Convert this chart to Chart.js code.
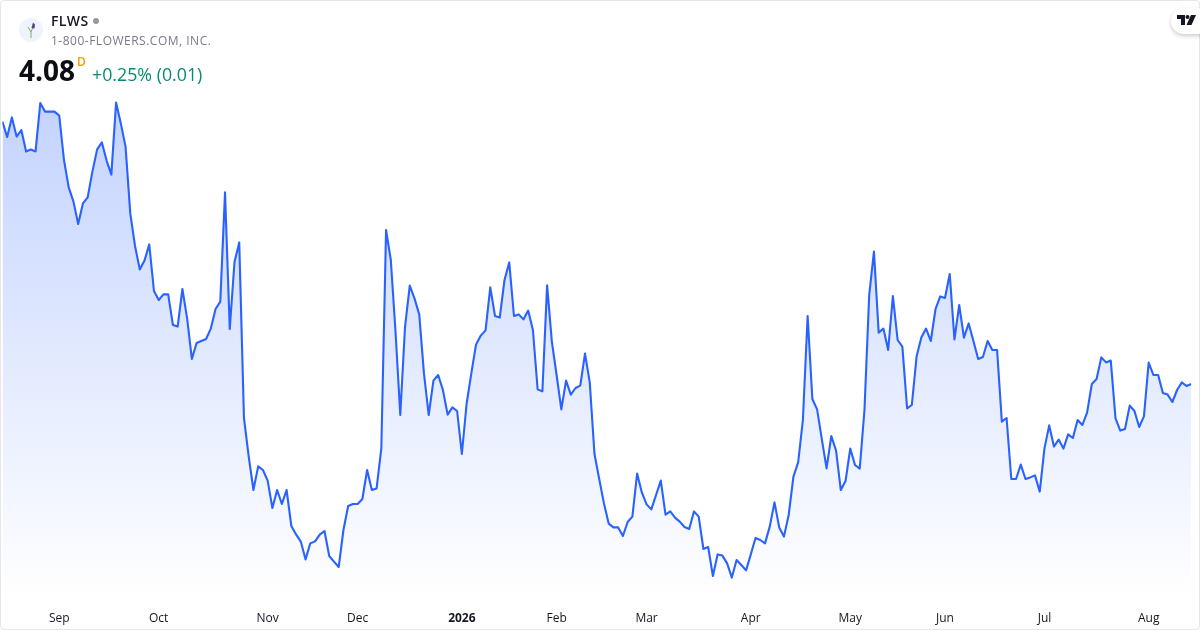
<!DOCTYPE html>
<html>
<head>
<meta charset="utf-8">
<title>FLWS</title>
<script src="https://cdn.jsdelivr.net/npm/chart.js@4"></script>
<style>
  html, body { margin: 0; padding: 0; background: #fff; }
  body { width: 1200px; height: 630px; overflow: hidden; position: relative; font-family: "Open Sans", sans-serif; }
  #chart { position: absolute; left: 0; top: 0; }
  .frame { position: absolute; left: 0; top: 0; width: 1198px; height: 628px; border: 1px solid #e6e6e6; border-radius: 4px; pointer-events: none; }
  .logo { position: absolute; left: 19px; top: 18px; width: 24px; height: 24px; border-radius: 50%; background: #f0f3fa; }
  .ticker { position: absolute; left: 51px; top: 12px; font-size: 14px; font-weight: 600; line-height: 18px; color: #131722; letter-spacing: .4px; }
  .dot { position: absolute; left: 93px; top: 18px; width: 6px; height: 6px; border-radius: 50%; background: #9598a1; }
  .name { position: absolute; left: 51px; top: 32px; font-size: 12px; line-height: 17px; color: #787b86; letter-spacing: .5px; }
  .price { position: absolute; left: 19px; top: 51px; font-size: 28px; font-weight: 700; line-height: 38px; color: #0c0e14; }
  .flag { position: absolute; left: 77px; top: 54px; font-size: 12px; font-weight: 600; line-height: 16px; color: #ff9800; }
  .change { position: absolute; left: 92px; top: 62px; font-size: 17.8px; line-height: 24px; color: #0b8a73; }
  .tv { position: absolute; left: 1171px; top: 8px; width: 40px; height: 26px; border-radius: 13px; background: #fff; box-shadow: 0 2px 4px rgba(0,0,0,.2); }
  .tv svg { position: absolute; left: 6px; top: 7px; }
</style>
</head>
<body>
<canvas id="chart" width="1200" height="630"></canvas>
<div class="frame"></div>

<div class="logo">
  <svg width="24" height="24" viewBox="0 0 24 24">
    <path d="M12 20 L12 14 L9 9 M12 14 L14 9" fill="none" stroke="#6fb36f" stroke-width="1"/>
    <path d="M12.5 10 L14 4.5 L16 6.5 L15.5 10.5 Z" fill="#5b3f8c"/>
  </svg>
</div>
<div class="ticker">FLWS</div>
<div class="dot"></div>
<div class="name">1-800-FLOWERS.COM, INC.</div>
<div class="price">4.08</div>
<div class="flag">D</div>
<div class="change">+0.25% (0.01)</div>
<div class="tv">
  <svg width="20" height="12" viewBox="0 0 20 12">
    <path d="M0 0 H8 V10 H4 V4 H0 Z" fill="#131722"/>
    <circle cx="10.5" cy="2" r="2" fill="#131722"/>
    <path d="M14 0 H19 L14.5 10 H9.5 Z" fill="#131722"/>
  </svg>
</div>

<script>
// daily closes
const closes = [
  5.392, 5.315, 5.413, 5.317, 5.35, 5.243, 5.252, 5.243, 5.485, 5.442,
  5.442, 5.442, 5.422, 5.2, 5.063, 4.992, 4.88, 4.983, 5.013, 5.142,
  5.253, 5.288, 5.197, 5.127, 5.487, 5.383, 5.267, 4.933, 4.77, 4.653,
  4.697, 4.778, 4.545, 4.5, 4.528, 4.528, 4.375, 4.367, 4.555, 4.408,
  4.205, 4.285, 4.295, 4.305, 4.357, 4.455, 4.492, 5.038, 4.355, 4.69,
  4.788, 3.91, 3.717, 3.55, 3.668, 3.65, 3.597, 3.46, 3.55, 3.48,
  3.55, 3.37, 3.328, 3.292, 3.203, 3.283, 3.293, 3.327, 3.345, 3.22,
  3.192, 3.165, 3.35, 3.47, 3.48, 3.48, 3.505, 3.65, 3.55, 3.558,
  3.758, 4.85, 4.7, 4.34, 3.925, 4.365, 4.572, 4.508, 4.428, 4.133,
  3.925, 4.097, 4.125, 4.05, 3.927, 3.963, 3.945, 3.73, 3.98, 4.133,
  4.278, 4.322, 4.348, 4.563, 4.42, 4.412, 4.6, 4.688, 4.42, 4.428,
  4.403, 4.447, 4.35, 4.053, 4.043, 4.573, 4.292, 4.125, 3.953, 4.097,
  4.027, 4.06, 4.072, 4.232, 4.088, 3.73, 3.605, 3.483, 3.382, 3.363,
  3.363, 3.32, 3.39, 3.417, 3.632, 3.538, 3.478, 3.453, 3.525, 3.597,
  3.427, 3.443, 3.412, 3.392, 3.365, 3.355, 3.443, 3.417, 3.255, 3.265,
  3.12, 3.228, 3.222, 3.183, 3.112, 3.2, 3.175, 3.148, 3.228, 3.31,
  3.3, 3.283, 3.367, 3.488, 3.363, 3.317, 3.425, 3.617, 3.688, 3.9,
  4.42, 4.005, 3.953, 3.803, 3.658, 3.82, 3.747, 3.55, 3.595, 3.757,
  3.675, 3.657, 3.95, 4.525, 4.742, 4.337, 4.357, 4.25, 4.52, 4.3,
  4.267, 3.958, 3.975, 4.217, 4.313, 4.357, 4.295, 4.455, 4.518, 4.51,
  4.63, 4.303, 4.475, 4.312, 4.383, 4.295, 4.205, 4.215, 4.295, 4.25,
  4.25, 3.892, 3.91, 3.605, 3.605, 3.677, 3.605, 3.613, 3.623, 3.542,
  3.758, 3.873, 3.767, 3.802, 3.757, 3.828, 3.81, 3.9, 3.875, 3.937,
  4.08, 4.105, 4.213, 4.188, 4.197, 3.908, 3.847, 3.855, 3.972, 3.945,
  3.865, 3.918, 4.187, 4.125, 4.125, 4.035, 4.027, 3.99, 4.05, 4.088,
  4.07, 4.08
];

// first trading session of each month, as index into closes
const tickIndexes = [12, 33, 56, 75, 97, 117, 136, 158, 179, 199, 220, 242];
const tickLabels = ['Sep', 'Oct', 'Nov', 'Dec', '2026', 'Feb', 'Mar', 'Apr', 'May', 'Jun', 'Jul', 'Aug'];

const ctx = document.getElementById('chart').getContext('2d');

const fillGradient = ctx.createLinearGradient(0, 100, 0, 600);
fillGradient.addColorStop(0, 'rgba(41, 98, 255, 0.28)');
fillGradient.addColorStop(1, 'rgba(41, 98, 255, 0)');

new Chart(ctx, {
  type: 'line',
  data: {
    labels: closes.map((_, i) => i),
    datasets: [{
      data: closes,
      borderColor: '#2962ff',
      borderWidth: 2.1,
      backgroundColor: fillGradient,
      fill: 'start',
      pointRadius: 0,
      tension: 0,
      borderJoinStyle: 'round'
    }]
  },
  options: {
    responsive: false,
    devicePixelRatio: 1,
    animation: false,
    layout: { padding: { left: 2.4, right: 8.7, top: 0, bottom: 0 } },
    plugins: { legend: { display: false }, tooltip: { enabled: false } },
    scales: {
      x: {
        type: 'linear',
        min: 0,
        max: closes.length - 1,
        grid: { display: false },
        border: { display: false },
        afterBuildTicks: axis => { axis.ticks = tickIndexes.map(v => ({ value: v })); },
        afterFit: axis => { axis.height = 30; },
        ticks: {
          autoSkip: false,
          maxRotation: 0,
          padding: 3,
          color: '#131722',
          font: ctx => ({
            family: '"Open Sans", sans-serif',
            size: 12,
            weight: tickLabels[ctx.index] === '2026' ? '700' : '400'
          }),
          callback: value => tickLabels[tickIndexes.indexOf(value)]
        }
      },
      y: {
        min: 3,
        max: 6,
        display: false
      }
    }
  }
});
</script>
</body>
</html>
